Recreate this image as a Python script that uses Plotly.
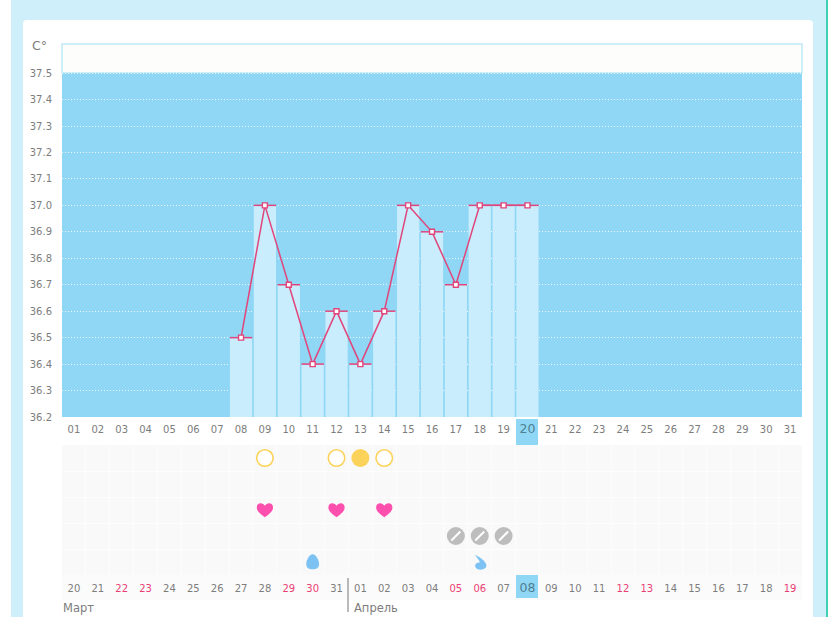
import plotly.graph_objects as go

W = 828
H = 617

# x axis of the chart: days of the cycle
days = list(range(1, 32))
top_labels = [f'{d:02d}' for d in days]
bottom_labels = ['20', '21', '22', '23', '24', '25', '26', '27', '28', '29', '30', '31',
                 '01', '02', '03', '04', '05', '06', '07', '08', '09', '10', '11', '12',
                 '13', '14', '15', '16', '17', '18', '19']
red_positions = [3, 4, 10, 11, 17, 18, 24, 25, 31]

# temperature
temp_days = [8, 9, 10, 11, 12, 13, 14, 15, 16, 17, 18, 19, 20]
temps = [36.5, 37.0, 36.7, 36.4, 36.6, 36.4, 36.6, 37.0, 36.9, 36.7, 37.0, 37.0, 37.0]
temp_ticks = [36.2, 36.3, 36.4, 36.5, 36.6, 36.7, 36.8, 36.9, 37.0, 37.1, 37.2, 37.3, 37.4, 37.5]

# symbol rows, row 5 is the top one
ring_days = [9, 12, 14]
sun_days = [13]
heart_days = [9, 12, 14]
pill_days = [17, 18, 19]
drop_days = [11]
tail_days = [18]
today = 20
today_label = '08'

BLUE = '#8fd7f5'
PALE = '#cfeffb'
BAR = '#c9edfd'
PINK = '#e0457b'
GREY = '#7d7d7d'
RED = '#ea3f74'
GOLD = '#fbd35a'
FONT = 'DejaVu Sans'


def px_x(x):
    return x / W


def px_y(y):
    return 1 - y / H


def page_rect(x0, y0, x1, y1, color, line=None):
    return dict(type='rect', xref='paper', yref='paper', layer='below',
                x0=px_x(x0), x1=px_x(x1), y0=px_y(y1), y1=px_y(y0),
                fillcolor=color, line=dict(width=1 if line else 0, color=line or color))


fig = go.Figure()

fig.add_trace(go.Bar(x=temp_days, y=[t - 36.2 for t in temps], base=36.2, width=0.93,
                     marker=dict(color=BAR, line_width=0), hoverinfo='skip'))
fig.add_trace(go.Scatter(x=temp_days, y=temps, mode='lines+markers',
                         line=dict(color=PINK, width=1.5),
                         marker=dict(symbol='square', size=5, color='white',
                                     line=dict(color=PINK, width=1.4)),
                         error_x=dict(type='constant', value=0.47, thickness=1.5, width=0, color=PINK)))

# symbols
fig.add_trace(go.Scatter(x=ring_days, y=[5] * len(ring_days), mode='markers', xaxis='x2', yaxis='y2',
                         marker=dict(symbol='circle', size=16.5, color='white', line=dict(color=GOLD, width=1.6))))
fig.add_trace(go.Scatter(x=sun_days, y=[5] * len(sun_days), mode='markers', xaxis='x2', yaxis='y2',
                         marker=dict(symbol='circle', size=18, color=GOLD, line_width=0)))
fig.add_trace(go.Scatter(x=pill_days, y=[2] * len(pill_days), mode='markers', xaxis='x2', yaxis='y2',
                         marker=dict(symbol='circle', size=18, color='#bdbdbd', line_width=0)))
fig.add_trace(go.Scatter(x=pill_days, y=[2] * len(pill_days), mode='markers', xaxis='x2', yaxis='y2',
                         marker=dict(symbol='line-ne', size=9, line=dict(color='white', width=2))))

shapes = [
    page_rect(0, 0, W, H, 'white'),
    page_rect(11, 0, 826, H, PALE),
    page_rect(826, 0, W, H, '#3ecfb4'),
    dict(type='path', xref='paper', yref='paper', layer='below', fillcolor='white', line_width=0,
         path=f'M {px_x(23)} {px_y(H)} L {px_x(23)} {px_y(24)} Q {px_x(23)} {px_y(20)} {px_x(27)} {px_y(20)} '
              f'L {px_x(809)} {px_y(20)} Q {px_x(813)} {px_y(20)} {px_x(813)} {px_y(24)} L {px_x(813)} {px_y(H)} Z'),
    page_rect(62, 575, 802, 600, '#fbfbfb'),
    page_rect(516, 419, 538, 445, BLUE),
    page_rect(516, 575, 538, 598, BLUE),
    dict(type='rect', xref='x2', yref='y2', layer='below', x0=0.5, x1=31.5, y0=0.5, y1=5.5,
         fillcolor='#f9f9f9', line_width=0),
    dict(type='rect', xref='x', yref='y', layer='below', x0=0.5, x1=31.5, y0=36.2, y1=37.5,
         fillcolor=BLUE, line_width=0),
    dict(type='rect', xref='paper', yref='paper', layer='below', x0=px_x(62), x1=px_x(802),
         y0=px_y(73), y1=px_y(44), fillcolor='#fdfefb', line=dict(color='#bfe9f8', width=1.5)),
    dict(type='line', xref='paper', yref='paper', x0=px_x(348), x1=px_x(348), y0=px_y(612), y1=px_y(578),
         line=dict(color='#777777', width=1)),
]

# hearts and drops are small paths around their day and row
for d in heart_days:
    shapes.append(dict(type='path', xref='x2', yref='y2', fillcolor='#fd4fae', line_width=0,
                       path=f'M {d} 2.72 C {d - 0.15} 2.84 {d - 0.34} 2.92 {d - 0.34} 3.1 '
                            f'C {d - 0.34} 3.3 {d - 0.08} 3.3 {d} 3.16 '
                            f'C {d + 0.08} 3.3 {d + 0.34} 3.3 {d + 0.34} 3.1 '
                            f'C {d + 0.34} 2.92 {d + 0.15} 2.84 {d} 2.72 Z'))
for d in drop_days:
    shapes.append(dict(type='path', xref='x2', yref='y2', fillcolor='#7cc2f2', line_width=0,
                       path=f'M {d} 1.3 C {d + 0.15} 1.3 {d + 0.27} 1.05 {d + 0.27} 0.93 '
                            f'C {d + 0.27} 0.75 {d + 0.15} 0.72 {d} 0.72 '
                            f'C {d - 0.15} 0.72 {d - 0.27} 0.75 {d - 0.27} 0.93 '
                            f'C {d - 0.27} 1.05 {d - 0.15} 1.3 {d} 1.3 Z'))
for d in tail_days:
    shapes.append(dict(type='path', xref='x2', yref='y2', fillcolor='#7cc2f2', line_width=0,
                       path=f'M {d - 0.2} 1.28 C {d - 0.05} 1.22 {d + 0.25} 1.05 {d + 0.28} 0.88 '
                            f'C {d + 0.28} 0.7 {d + 0.05} 0.68 {d - 0.08} 0.72 '
                            f'C {d - 0.25} 0.78 {d - 0.22} 0.98 {d - 0.02} 0.98 '
                            f'C {d + 0.05} 1.0 {d - 0.08} 1.12 {d - 0.2} 1.28 Z'))

top_text = [f'<span style="font-size:12.5px;color:#4f7f92">{t}</span>' if d == today else t
            for d, t in zip(days, top_labels)]
bottom_text = []
for d, t in zip(days, bottom_labels):
    if t == today_label:
        bottom_text.append(f'<span style="font-size:12.5px;color:#4f7f92">{t}</span>')
    elif d in red_positions:
        bottom_text.append(f'<span style="color:{RED}">{t}</span>')
    else:
        bottom_text.append(t)

half_days = [d - 0.5 for d in days] + [31.5]

fig.update_layout(
    width=W, height=H, margin=dict(l=0, r=0, t=0, b=0), showlegend=False,
    paper_bgcolor='white', plot_bgcolor='#fdfefb',
    font=dict(family=FONT, size=10, color=GREY), barmode='overlay',
    shapes=shapes,
    xaxis=dict(domain=[px_x(62), px_x(802)], anchor='y', range=[0.5, 31.5], tickmode='array',
               tickvals=days, ticktext=top_text, showgrid=False, zeroline=False, ticks='', showline=False,
               fixedrange=True, tickangle=0, automargin=False, ticklabelstandoff=5),
    yaxis=dict(domain=[px_y(417), px_y(44)], anchor='x', range=[36.2, 37.61], tickmode='array',
               tickvals=temp_ticks, tickformat='.1f', showgrid=True,
               gridcolor='rgba(255,255,255,0.8)', griddash='1px,2px', gridwidth=1,
               zeroline=False, ticks='', showline=False, fixedrange=True, automargin=False,
               ticklabelstandoff=9),
    xaxis2=dict(domain=[px_x(62), px_x(802)], anchor='y2', range=[0.5, 31.5], tickmode='array',
                tickvals=days, ticktext=bottom_text, showgrid=False, zeroline=False, ticks='',
                fixedrange=True, tickangle=0, automargin=False, ticklabelstandoff=6,
                minor=dict(tickmode='array', tickvals=half_days, showgrid=True, gridcolor='#fdfdfd', gridwidth=1)),
    yaxis2=dict(domain=[px_y(575), px_y(445)], anchor='x2', range=[0.5, 5.5], showticklabels=False,
                showgrid=False, zeroline=False, ticks='', fixedrange=True, automargin=False,
                minor=dict(tickmode='array', tickvals=[0.5, 1.5, 2.5, 3.5, 4.5, 5.5],
                           showgrid=True, gridcolor='#fdfdfd', gridwidth=1)),
)

fig.add_annotation(xref='paper', yref='paper', x=px_x(39), y=px_y(46), text='C°', showarrow=False,
                   xanchor='center', yanchor='middle', font=dict(family=FONT, size=12.5, color=GREY))
fig.add_annotation(xref='paper', yref='paper', x=px_x(61), y=px_y(608), text='Март', showarrow=False,
                   xanchor='left', yanchor='middle', font=dict(family=FONT, size=11.5, color=GREY))
fig.add_annotation(xref='paper', yref='paper', x=px_x(352), y=px_y(608), text='Апрель', showarrow=False,
                   xanchor='left', yanchor='middle', font=dict(family=FONT, size=11.5, color=GREY))

fig.write_html("out.html", config=dict(displayModeBar=False),
               post_script="document.body.style.margin='0';document.body.style.overflow='hidden';")
